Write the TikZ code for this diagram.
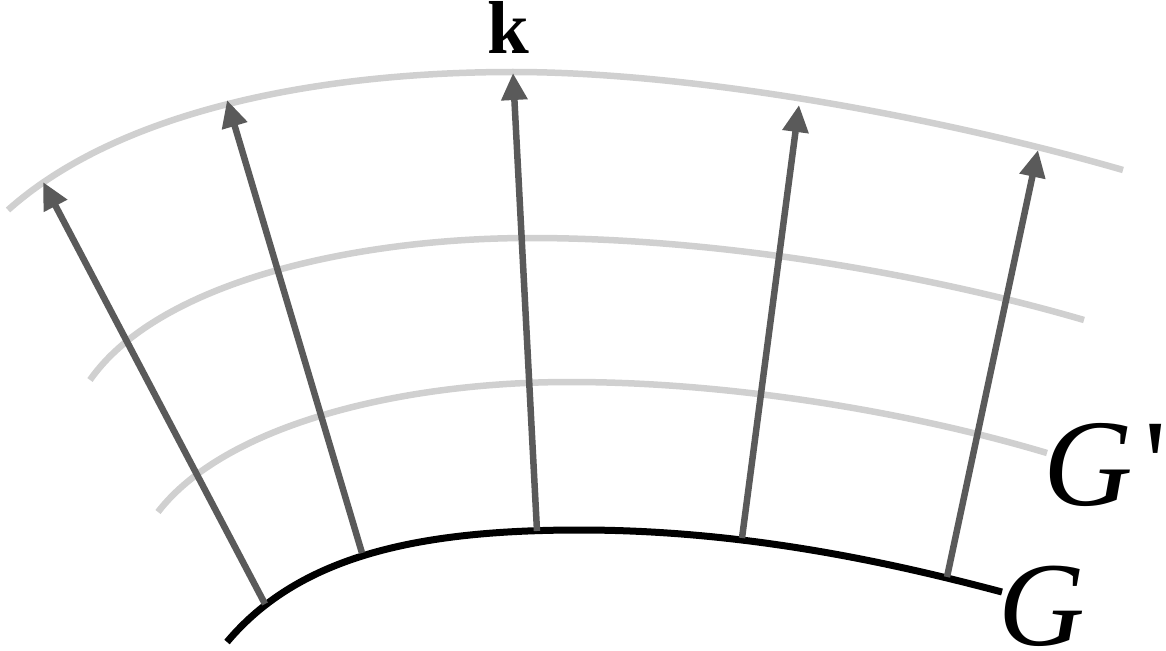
\documentclass[tikz,border=0pt]{standalone}
\usepackage{fontspec}
\setmainfont{Liberation Serif}
\newfontfamily\rawserif[Ligatures=TeXOff]{Liberation Serif}
\usetikzlibrary{arrows.meta}
\definecolor{gridgray}{HTML}{D0D0D0}
\definecolor{arrowgray}{HTML}{5A5A5A}
\tikzset{
  front/.style={gridgray, line width=6.5pt, line cap=butt},
  surface/.style={black, line width=7pt},
  ray/.style={arrowgray, line width=6.5pt, -{Triangle[length=27pt,width=25pt]}},
  lbl/.style={inner sep=0pt, outer sep=0pt, font=\fontsize{120}{120}\selectfont\itshape}
}
\begin{document}
\begin{tikzpicture}[x=1pt,y=-1pt]
\useasboundingbox (0,0) rectangle (1166,650);
% wavefronts
\draw[front] (8,210) .. controls (120,110) and (320,72) .. (513,72)
                     .. controls (700,72) and (950,120) .. (1123,170);
\draw[front] (90,380) .. controls (160,280) and (360,238) .. (530,238)
                      .. controls (720,238) and (930,275) .. (1084,320);
\draw[front] (158,512) .. controls (225,425) and (400,382) .. (570,382)
                       .. controls (740,382) and (920,415) .. (1047,453);
% surface G
\draw[surface] (227,642) .. controls (300,555) and (420,530) .. (580,530)
                         .. controls (750,530) and (900,565) .. (1002,592);
% ray end points
\coordinate (b1) at (265,604); \coordinate (t1) at (43,182);
\coordinate (b2) at (362,553); \coordinate (t2) at (227,100);
\coordinate (b3) at (537,531); \coordinate (t3) at (513,73);
\coordinate (b4) at (742,538); \coordinate (t4) at (799,105);
\coordinate (b5) at (947,577); \coordinate (t5) at (1038,150);
\draw[ray] (b1) -- (t1);
\draw[ray] (b2) -- (t2);
\draw[ray] (b3) -- (t3);
\draw[ray] (b4) -- (t4);
\draw[ray] (b5) -- (t5);
% labels
\node[inner sep=0pt, anchor=base, font=\fontsize{75}{75}\selectfont\bfseries] (k) at (508,54) {k};
\node[lbl, anchor=base west, font=\fontsize{124}{124}\selectfont\itshape] (Gp) at (1043,505) {G\kern12pt{\rawserif\upshape'}};
\node[lbl, anchor=base west] (G) at (998,645) {G};
\end{tikzpicture}
\end{document}
